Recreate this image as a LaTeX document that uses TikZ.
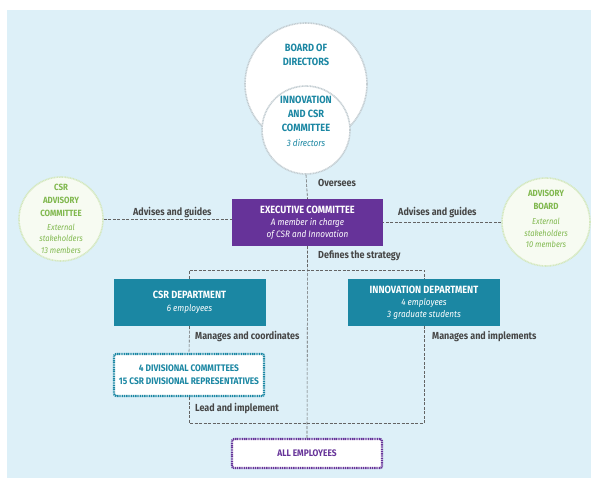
\documentclass[tikz,border=0pt]{standalone}
\usepackage{fontspec}
\setmainfont{Fira Sans}[FakeStretch=0.88]
\definecolor{bg}{RGB}{221,240,248}
\definecolor{teal}{RGB}{27,135,163}
\definecolor{purp}{RGB}{102,51,153}
\definecolor{grn}{RGB}{128,184,78}
\definecolor{grnline}{RGB}{212,232,190}
\definecolor{grnfill}{RGB}{247,251,242}
\definecolor{circline}{RGB}{195,205,210}
\definecolor{lbl}{RGB}{70,70,70}
\definecolor{conncol}{RGB}{100,100,100}
\newcommand\boxtitlefont{\fontsize{10.5}{13}\selectfont\bfseries}
\tikzset{
  boardcirc/.style={circle, fill=white, draw=circline, line width=1.6pt, dash pattern=on 1pt off 0.6pt, inner sep=0pt},
  advcirc/.style={circle, fill=grnfill, draw=grnline, line width=1.6pt, dash pattern=on 1pt off 0.6pt, inner sep=0pt},
  bluetxt/.style={text=teal, font=\fontsize{10.5}{14}\selectfont\bfseries, align=center, inner sep=0pt},
  greentxt/.style={text=grn, font=\fontsize{9}{13}\selectfont\bfseries, align=center, inner sep=0pt},
  greenit/.style={text=grn, font=\fontsize{8.5}{11.5}\selectfont\itshape, align=center, inner sep=0pt},
  filledbox/.style={inner sep=0pt, text=white, align=center, font=\fontsize{9.3}{11.5}\selectfont},
  dotbox/.style={fill=white, line width=2.2pt, dash pattern=on 1.1pt off 0.7pt, rounded corners=2pt, inner sep=0pt, align=center, font=\fontsize{9.5}{13}\selectfont\bfseries},
  conn/.style={draw=conncol, line width=0.6pt, dash pattern=on 3pt off 1.5pt},
  lab/.style={text=lbl, font=\fontsize{10.2}{11}\selectfont\bfseries, inner sep=0pt, anchor=west},
}
\begin{document}
\begin{tikzpicture}[x=1pt,y=-1pt]
\useasboundingbox (0,0) rectangle (591,478);
\fill[bg] (7,10) rectangle (591,478);

% board circles
\node[boardcirc, minimum size=122pt] (board) at (306,84) {};
\node[boardcirc, minimum size=88pt] (icsr) at (306,130) {};
\node[bluetxt] (boardtxt) at (306,55) {BOARD OF\\DIRECTORS};
\node[bluetxt] (icsrtxt) at (306,114) {INNOVATION\\AND CSR\\COMMITTEE};
\node[text=teal, font=\fontsize{9.3}{10}\selectfont\itshape, inner sep=0pt] (icsrsub) at (306,143) {3 directors};

% advisory circles
\node[advcirc, minimum size=84pt] (csrc) at (61,219) {};
\node[greentxt] (csrctxt) at (61,200) {CSR\\ADVISORY\\COMMITTEE};
\node[greenit] (csrcsub) at (61,238.5) {External\\stakeholders\\13 members};
\node[advcirc, minimum size=88pt] (advb) at (546,222) {};
\node[greentxt] (advbtxt) at (546,200) {ADVISORY\\BOARD};
\node[greenit] (advbsub) at (546,233) {External\\stakeholders\\10 members};

% executive
\node[filledbox, fill=purp, minimum width=151pt, minimum height=47pt] (exec) at (307.5,222.5)
  {{\boxtitlefont EXECUTIVE COMMITTEE}\\[1pt]\itshape A member in charge\\\itshape of CSR and Innovation};

% departments
\node[filledbox, fill=teal, minimum width=152pt, minimum height=47pt] (csrd) at (189.5,302.5)
  {{\boxtitlefont CSR DEPARTMENT}\\[1pt]\itshape 6 employees};
\node[filledbox, fill=teal, minimum width=152pt, minimum height=47pt] (innov) at (424,302.5)
  {{\boxtitlefont INNOVATION DEPARTMENT}\\[1pt]\itshape 4 employees\\\itshape 3 graduate students};

% dotted boxes
\node[dotbox, draw=teal, text=teal, minimum width=150pt, minimum height=42pt] (div) at (189,375)
  {4 DIVISIONAL COMMITTEES\\15 CSR DIVISIONAL REPRESENTATIVES};
\node[dotbox, draw=purp, text=purp, minimum width=150pt, minimum height=29pt] (allemp) at (307,453.5)
  {ALL EMPLOYEES};

% connectors
\draw[conn] (icsr.south) -- (exec.north);
\draw[conn] (csrc.east) -- (csrc.east -| exec.west);
\draw[conn] (advb.west) -- (advb.west -| exec.east);
\draw[conn] (exec.south) -- (allemp.north);
\draw[conn] (csrd.north) -- ++(0,-9) coordinate (tl) -| (innov.north);
\draw[conn] (csrd.south) -- (div.north);
\draw[conn] (div.south) -- ++(0,26) coordinate (bl) -| (innov.south);

% labels
\node[lab] (l1) at (318,183) {Oversees};
\node[lab] (l2) at (133,212) {Advises and guides};
\node[lab] (l3) at (398,212) {Advises and guides};
\node[lab] (l4) at (318,256) {Defines the strategy};
\node[lab] (l5) at (195,336) {Manages and coordinates};
\node[lab] (l6) at (432,336) {Manages and implements};
\node[lab] (l7) at (195,408) {Lead and implement};
\end{tikzpicture}
\end{document}
